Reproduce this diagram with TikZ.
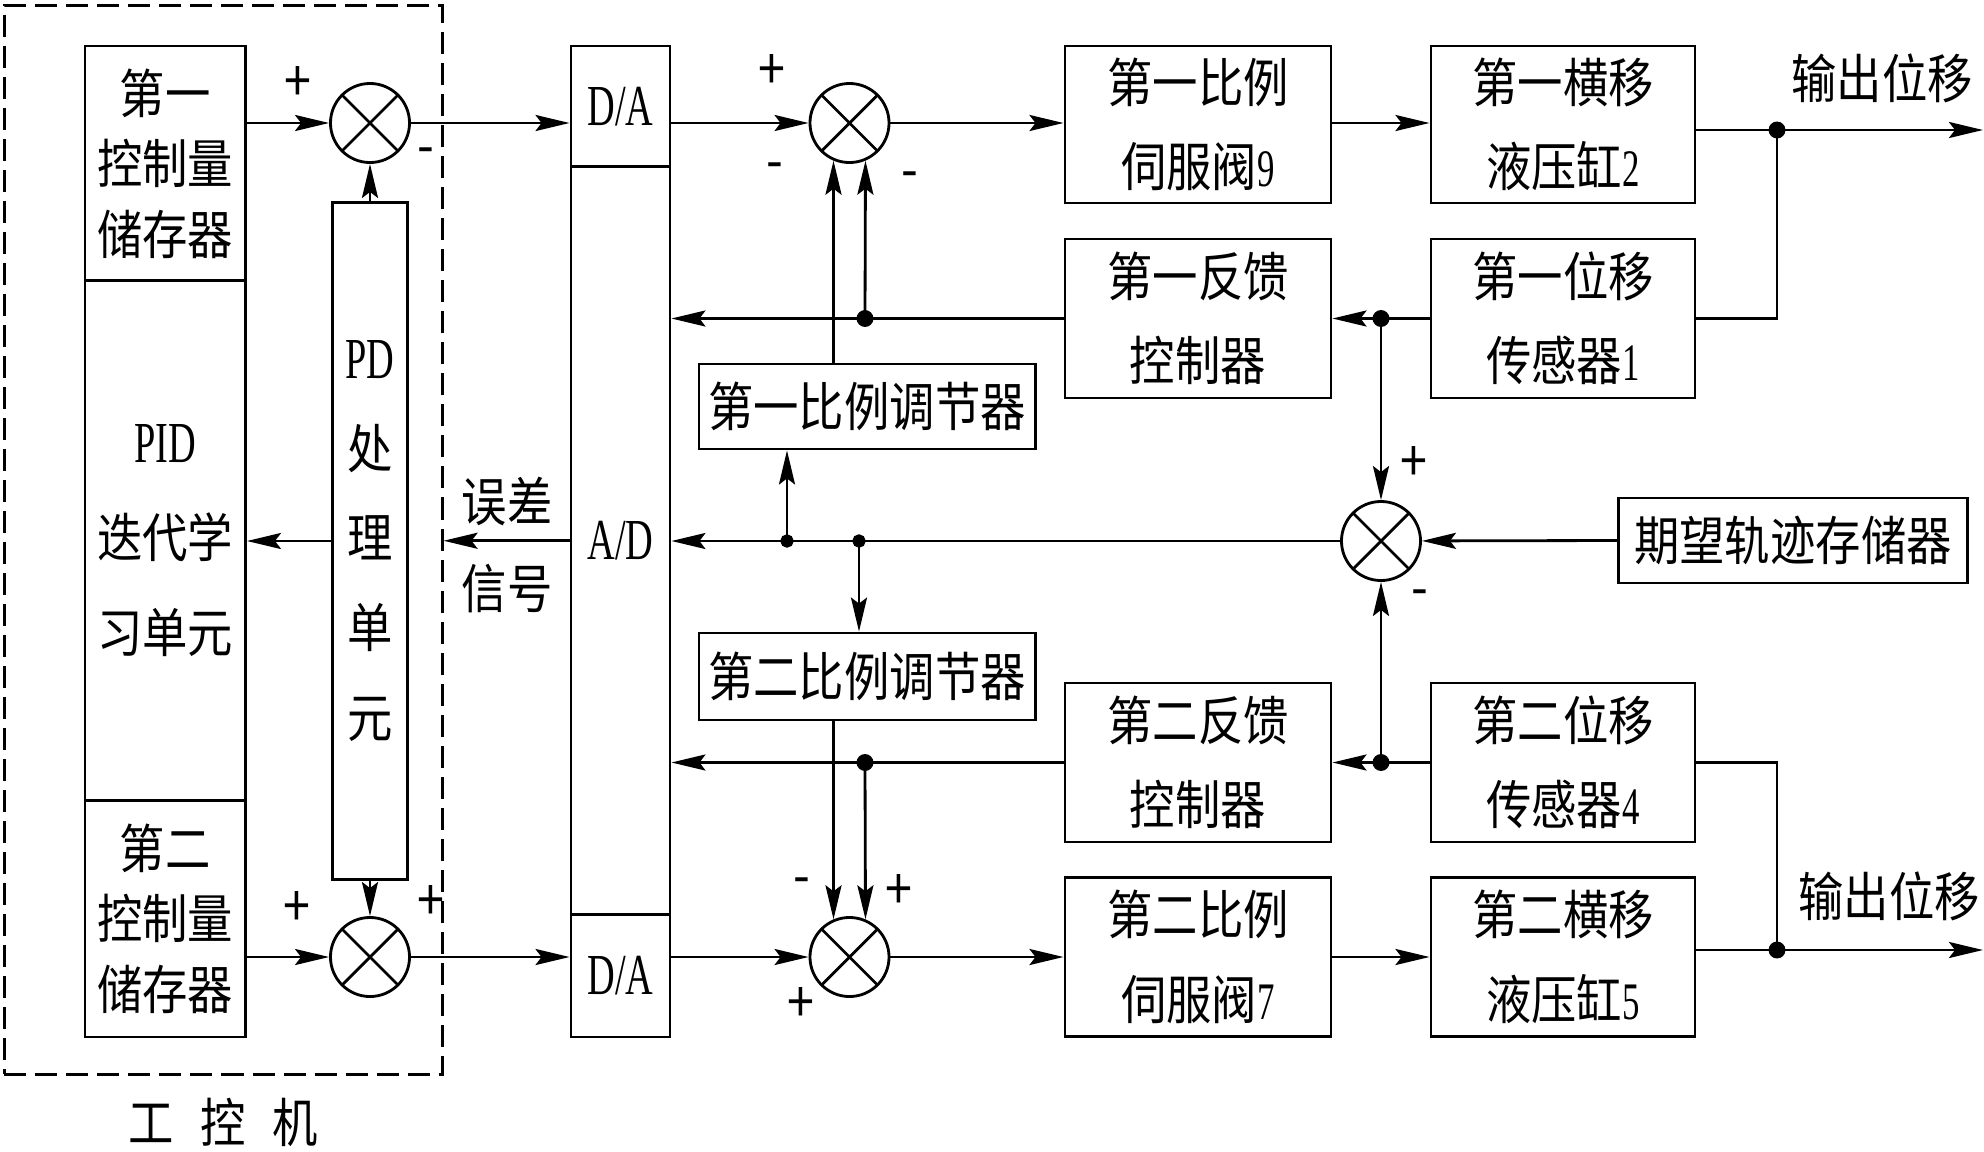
\documentclass[tikz,border=0pt]{standalone}
\usepackage{fontspec}
\setmainfont{Noto Sans CJK SC}[FakeStretch=0.86]
\newfontfamily\narrowfont[FakeStretch=0.66]{Liberation Serif}
\usetikzlibrary{arrows.meta}
\newcommand{\nr}[1]{{\fontsize{16.5}{16.5}\selectfont\narrowfont #1}}
\newcommand{\nd}[1]{{\fontsize{15}{15}\selectfont\narrowfont #1}}
\tikzset{>={Stealth[length=3.4mm,width=1.6mm,inset=0.6mm]}}
\tikzset{
  blk/.style={draw, thick, align=center, inner sep=0pt},
  conv/.style={blk, font=\fontsize{16.5}{16.5}\selectfont\narrowfont},
  sum/.style={draw, thick, circle, minimum size=0.79cm, inner sep=0pt,
    path picture={\draw[thick] (path picture bounding box.north west) -- (path picture bounding box.south east)
      (path picture bounding box.north east) -- (path picture bounding box.south west);}},
  sgn/.style={inner sep=0pt, font=\fontsize{16}{16}\selectfont},
}

\begin{document}
\begin{tikzpicture}[x=0.01cm, y=-0.01cm, thick, font=\fontsize{15}{24}\selectfont]
\useasboundingbox (0,0) rectangle (1984,1151);
\node[draw, dash pattern=on 2.2mm off 0.9mm, minimum width=4.375cm, minimum height=10.685cm] (IPC) at (223.25,539.75) {};
\node (ipc) at (223,1122) {工\enspace 控\enspace 机};
\node[blk, minimum width=1.605cm, minimum height=2.35cm, font=\fontsize{15}{20}\selectfont] (M1) at (165.25,163.5) {第一\\控制量\\储存器};
\node[blk, minimum width=1.605cm, minimum height=5.19cm, font=\fontsize{15}{27}\selectfont] (PID) at (165.25,540.5) {\nr{PID}\\迭代学\\习单元};
\node[blk, minimum width=1.605cm, minimum height=2.37cm, font=\fontsize{15}{20}\selectfont] (M2) at (165.25,918.5) {第二\\控制量\\储存器};
\node[blk, minimum width=0.75cm, minimum height=6.76cm, font=\fontsize{15}{25.5}\selectfont] (PD) at (370,541) {\nr{PD}\\处\\理\\单\\元};
\node[conv, minimum width=0.99cm, minimum height=1.21cm] (DA1) at (620.5,106.5) {D/A};
\node[conv, minimum width=0.99cm, minimum height=7.475cm] (AD) at (620.5,540.75) {A/D};
\node[conv, minimum width=0.99cm, minimum height=1.225cm] (DA2) at (620.5,975.75) {D/A};
\node[align=center, font=\fontsize{15}{25}\selectfont] (err) at (507,545) {误差\\信号};
\node[sum] (S1) at (370,123) {};
\node[sum] (S3) at (370,957) {};
\node[sum] (S2) at (849.5,123) {};
\node[sum] (S4) at (849.5,957) {};
\node[sum] (S5) at (1381,541) {};
\node[blk, minimum width=2.66cm, minimum height=1.57cm] (V1) at (1198,124.5) {第一比例\\伺服阀\nd{9}};
\node[blk, minimum width=2.66cm, minimum height=1.59cm] (F1) at (1198,318.5) {第一反馈\\控制器};
\node[blk, minimum width=3.36cm, minimum height=0.85cm] (R1) at (867,406.5) {第一比例调节器};
\node[blk, minimum width=3.36cm, minimum height=0.87cm] (R2) at (867,676.5) {第二比例调节器};
\node[blk, minimum width=2.66cm, minimum height=1.59cm] (F2) at (1198,762.5) {第二反馈\\控制器};
\node[blk, minimum width=2.66cm, minimum height=1.595cm] (V2) at (1198,957) {第二比例\\伺服阀\nd{7}};
\node[blk, minimum width=2.64cm, minimum height=1.57cm] (C1) at (1563,124.5) {第一横移\\液压缸\nd{2}};
\node[blk, minimum width=2.64cm, minimum height=1.59cm] (P1) at (1563,318.5) {第一位移\\传感器\nd{1}};
\node[blk, minimum width=2.64cm, minimum height=1.59cm] (P2) at (1563,762.5) {第二位移\\传感器\nd{4}};
\node[blk, minimum width=2.64cm, minimum height=1.595cm] (C2) at (1563,957) {第二横移\\液压缸\nd{5}};
\node[blk, minimum width=3.495cm, minimum height=0.85cm] (T) at (1793,540.5) {期望轨迹存储器};
\node (o1) at (1882,78) {输出位移};
\node (o2) at (1889,896) {输出位移};
\node[sgn] (a1) at (298,84) {+};
\node[sgn] (a2) at (426,157) {-};
\node[sgn] (a3) at (297,909) {+};
\node[sgn] (a4) at (431,903) {+};
\node[sgn] (b1) at (772,72) {+};
\node[sgn] (b2) at (774.5,172) {-};
\node[sgn] (b3) at (910,181) {-};
\node[sgn] (b4) at (801.5,887) {-};
\node[sgn] (b5) at (898.5,892) {+};
\node[sgn] (b6) at (801,1005) {+};
\node[sgn] (c1) at (1414,464) {+};
\node[sgn] (c2) at (1420,599) {-};
\coordinate (J1) at (865,318.5);
\coordinate (J2) at (865,762.5);
\coordinate (J3) at (1381,318.5);
\coordinate (J4) at (1381,762.5);
\coordinate (J5) at (1777,130);
\coordinate (J6) at (787,541);
\coordinate (J7) at (859,541);
\coordinate (J8) at (1777,950);
\coordinate (O1) at (1983,130);
\coordinate (O2) at (1983,950);
\draw[->] (M1.east |- S1) -- (S1);
\draw[->] (S1) -- (S1 -| DA1.west);
\draw[->] (PD) -- (S1);
\draw[->] (PD) -- (S3);
\draw[->] (PD.west) -- (PD.west -| PID.east);
\draw[->] (AD.west) -- (AD.west -| IPC.east);
\draw[->] (M2.east |- S3) -- (S3);
\draw[->] (S3) -- (S3 -| DA2.west);
\draw[->] (DA1.east |- S2) -- (S2);
\draw[->] (S2) -- (S2 -| V1.west);
\draw[->] (V1.east |- S2) -- (C1.west |- S2);
\draw[->] (C1.east |- J5) -- (O1);
\draw (P1.east) -- (P1.east -| J5) -- (J5);
\draw[->] (P1.west) -- (F1.east);
\draw[->] (J3) -- (S5);
\draw[->] (F1.west) -- (F1.west -| AD.east);
\draw[->] (J1) -- (S2.-67);
\draw[->] (S2.-113 |- R1.north) -- (S2.-113);
\draw[->] (S5) -- (S5 -| AD.east);
\draw[->] (T.west) -- (S5);
\draw[->] (J6) -- (J6 |- R1.south);
\draw[->] (J7) -- (J7 |- R2.north);
\draw[->] (P2.west) -- (F2.east);
\draw[->] (J4) -- (S5);
\draw[->] (F2.west) -- (F2.west -| AD.east);
\draw[->] (J2) -- (S4.67);
\draw[->] (S4.113 |- R2.south) -- (S4.113);
\draw[->] (DA2.east |- S4) -- (S4);
\draw[->] (S4) -- (S4 -| V2.west);
\draw[->] (V2.east |- S4) -- (C2.west |- S4);
\draw (P2.east) -- (P2.east -| J8) -- (J8);
\draw[->] (C2.east |- J8) -- (O2);
\draw[fill=black] (J1) circle (2pt);
\draw[fill=black] (J2) circle (2pt);
\draw[fill=black] (J3) circle (2pt);
\draw[fill=black] (J4) circle (2pt);
\draw[fill=black] (J5) circle (2pt);
\draw[fill=black] (J6) circle (1.5pt);
\draw[fill=black] (J7) circle (1.5pt);
\draw[fill=black] (J8) circle (2pt);
\end{tikzpicture}
\end{document}
